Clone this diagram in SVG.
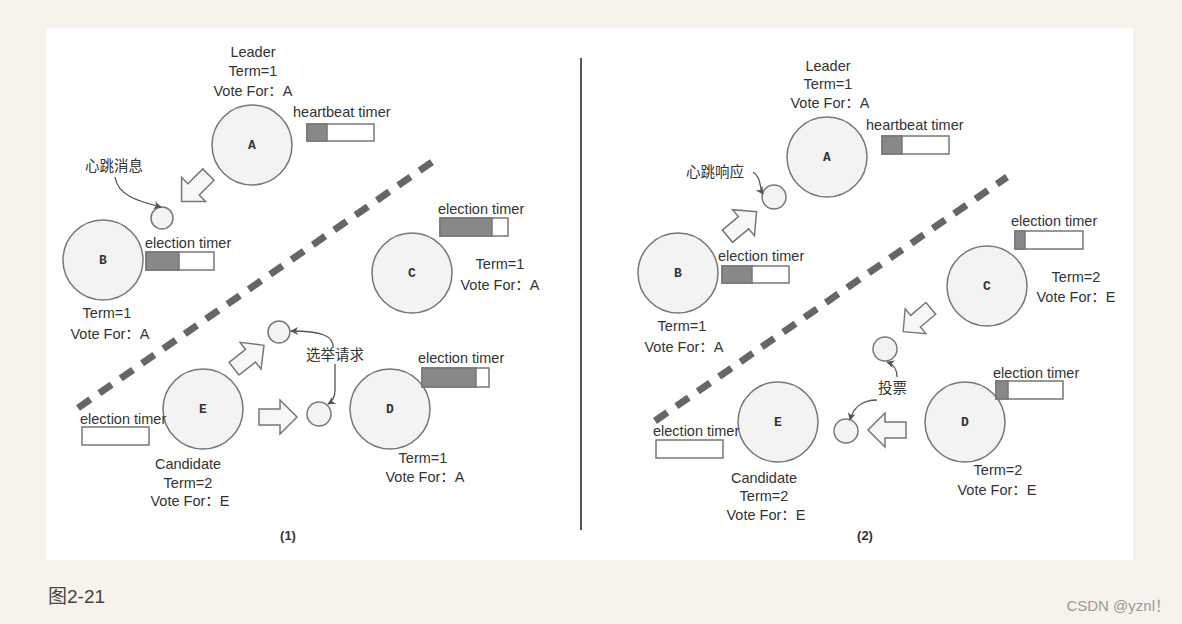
<svg xmlns="http://www.w3.org/2000/svg" width="1182" height="624" viewBox="0 0 1182 624">
<style>
.t{font-family:"Liberation Sans",Arial,"Noto Sans CJK SC",sans-serif;font-size:14.5px;fill:#333}
.c{text-anchor:middle}
.n{fill:#f3f3f3;stroke:#777;stroke-width:1.5}
.s{fill:#f3f3f3;stroke:#777;stroke-width:1.5}
.lb{font-family:"Liberation Mono",monospace;font-size:13px;font-weight:bold;fill:#333;text-anchor:middle}
.bar{fill:#fff;stroke:#777;stroke-width:1.5}
.fill{fill:#888;stroke:#777;stroke-width:1.5}
.blk{fill:#f7f7f7;stroke:#777;stroke-width:1.5;stroke-linejoin:miter}
.dash{stroke:#666;stroke-width:7;stroke-dasharray:15 11;fill:none}
.cv{fill:none;stroke:#555;stroke-width:1.3;marker-end:url(#ah)}
</style>
<defs>
<marker id="ah" viewBox="0 0 10 10" refX="9" refY="5" markerWidth="8" markerHeight="8" orient="auto" markerUnits="userSpaceOnUse">
<path d="M0,0 L10,5 L0,10 L3,5 Z" fill="#555"/>
</marker>
<path id="ba" d="M-19,-8 L2,-8 L2,-17 L19,0 L2,17 L2,8 L-19,8 Z"/>
</defs>
<rect x="0" y="0" width="1182" height="624" fill="#f6f3ec"/>
<rect x="46" y="28" width="1087" height="532" fill="#fff"/>

<!-- divider -->
<line x1="581" y1="58" x2="581" y2="530" stroke="#555" stroke-width="2"/>
<line class="dash" x1="78" y1="408" x2="432" y2="162"/>
<line class="dash" x1="655" y1="421" x2="1007" y2="177"/>

<!-- LEFT PANEL -->
<g id="L-A">
<text class="t c" x="253" y="57">Leader</text>
<text class="t c" x="253" y="76">Term=1</text>
<text class="t c" x="253" y="96">Vote For：A</text>
<circle class="n" cx="252" cy="145" r="40"/>
<text class="lb" x="252" y="149">A</text>
<text class="t" x="293" y="117">heartbeat timer</text>
<rect class="bar" x="307" y="124" width="67" height="17"/>
<rect class="fill" x="307" y="124" width="20" height="17"/>
</g>
<g id="L-B">
<circle class="n" cx="103" cy="260" r="40"/>
<text class="lb" x="103" y="264">B</text>
<text class="t" x="145" y="248">election timer</text>
<rect class="bar" x="146" y="252" width="68" height="18"/>
<rect class="fill" x="146" y="252" width="33" height="18"/>
<text class="t c" x="107" y="318">Term=1</text>
<text class="t c" x="110" y="339">Vote For：A</text>
</g>
<g id="L-C">
<circle class="n" cx="412" cy="273" r="40"/>
<text class="lb" x="412" y="277">C</text>
<text class="t" x="438" y="214">election timer</text>
<rect class="bar" x="440" y="218" width="68" height="18"/>
<rect class="fill" x="440" y="218" width="52" height="18"/>
<text class="t c" x="500" y="269">Term=1</text>
<text class="t c" x="500" y="290">Vote For：A</text>
</g>
<g id="L-D">
<circle class="n" cx="390" cy="409" r="40"/>
<text class="lb" x="390" y="413">D</text>
<text class="t" x="418" y="363">election timer</text>
<rect class="bar" x="422" y="368" width="67" height="19"/>
<rect class="fill" x="422" y="368" width="54" height="19"/>
<text class="t c" x="423" y="463">Term=1</text>
<text class="t c" x="425" y="482">Vote For：A</text>
</g>
<g id="L-E">
<circle class="n" cx="203" cy="409" r="40"/>
<text class="lb" x="203" y="413">E</text>
<text class="t" x="80" y="424">election timer</text>
<rect class="bar" x="82" y="427" width="67" height="18"/>
<text class="t c" x="188" y="469">Candidate</text>
<text class="t c" x="188" y="488">Term=2</text>
<text class="t c" x="190" y="506">Vote For：E</text>
</g>
<g id="L-msgs">
<circle class="s" cx="162" cy="218" r="11"/>
<circle class="s" cx="279" cy="332" r="11"/>
<circle class="s" cx="319" cy="414" r="12"/>
<text class="t" x="85" y="171">心跳消息</text>
<text class="t" x="306" y="360">选举请求</text>
<use href="#ba" class="blk" transform="translate(195,188) rotate(135)"/>
<use href="#ba" class="blk" transform="translate(249,357) rotate(-38)"/>
<use href="#ba" class="blk" transform="translate(278,417)"/>
<text class="t c" x="288" y="540" style="font-weight:bold;font-size:13px">(1)</text>
</g>

<!-- RIGHT PANEL -->
<g id="R-A">
<text class="t c" x="828" y="71">Leader</text>
<text class="t c" x="828" y="89">Term=1</text>
<text class="t c" x="830" y="108">Vote For：A</text>
<circle class="n" cx="827" cy="157" r="40"/>
<text class="lb" x="827" y="161">A</text>
<text class="t" x="866" y="130">heartbeat timer</text>
<rect class="bar" x="882" y="136" width="67" height="18"/>
<rect class="fill" x="882" y="136" width="20" height="18"/>
</g>
<g id="R-B">
<circle class="n" cx="678" cy="273" r="40"/>
<text class="lb" x="678" y="277">B</text>
<text class="t" x="718" y="261">election timer</text>
<rect class="bar" x="722" y="266" width="67" height="17"/>
<rect class="fill" x="722" y="266" width="30" height="17"/>
<text class="t c" x="682" y="331">Term=1</text>
<text class="t c" x="684" y="352">Vote For：A</text>
</g>
<g id="R-C">
<circle class="n" cx="987" cy="286" r="40"/>
<text class="lb" x="987" y="290">C</text>
<text class="t" x="1011" y="226">election timer</text>
<rect class="bar" x="1015" y="231" width="68" height="18"/>
<rect class="fill" x="1015" y="231" width="10" height="18"/>
<text class="t c" x="1076" y="282">Term=2</text>
<text class="t c" x="1076" y="302">Vote For：E</text>
</g>
<g id="R-D">
<circle class="n" cx="965" cy="422" r="40"/>
<text class="lb" x="965" y="426">D</text>
<text class="t" x="993" y="378">election timer</text>
<rect class="bar" x="996" y="381" width="67" height="18"/>
<rect class="fill" x="996" y="381" width="12" height="18"/>
<text class="t c" x="998" y="475">Term=2</text>
<text class="t c" x="997" y="495">Vote For：E</text>
</g>
<g id="R-E">
<circle class="n" cx="778" cy="422" r="40"/>
<text class="lb" x="778" y="426">E</text>
<text class="t" x="653" y="436">election timer</text>
<rect class="bar" x="656" y="440" width="67" height="18"/>
<text class="t c" x="764" y="483">Candidate</text>
<text class="t c" x="764" y="501">Term=2</text>
<text class="t c" x="766" y="520">Vote For：E</text>
</g>
<g id="R-msgs">
<circle class="s" cx="774" cy="197" r="12"/>
<circle class="s" cx="885" cy="349" r="12"/>
<circle class="s" cx="846" cy="431" r="12"/>
<text class="t" x="686" y="177">心跳响应</text>
<text class="t" x="878" y="393">投票</text>
<use href="#ba" class="blk" transform="translate(742,224) rotate(-40)"/>
<use href="#ba" class="blk" transform="translate(917,320) rotate(140) scale(0.95)"/>
<use href="#ba" class="blk" transform="translate(887,430) rotate(180)"/>
<text class="t c" x="865" y="540" style="font-weight:bold;font-size:13px">(2)</text>
</g>

<g id="connectors">
<path class="cv" d="M115,177 C118,196 138,201 161,207"/>
<path class="cv" d="M333,348 C334,336 322,331 291,331"/>
<path class="cv" d="M335,364 L335,390 C335,397 333,401 328,404"/>
<path class="cv" d="M753,172 C762,178 759,188 763,194"/>
<path class="cv" d="M897,377 C897,369 893,364 887,362"/>
<path class="cv" d="M877,400 C862,400 853,408 850,420"/>
</g>

<text x="48" y="603" style="font-family:'Liberation Sans','Noto Sans CJK SC',sans-serif;font-size:19px;fill:#444">图2-21</text>
<text x="1170" y="611" text-anchor="end" style="font-family:'Liberation Sans','Noto Sans CJK SC',sans-serif;font-size:15px;fill:#999">CSDN @yznl！</text>
</svg>
